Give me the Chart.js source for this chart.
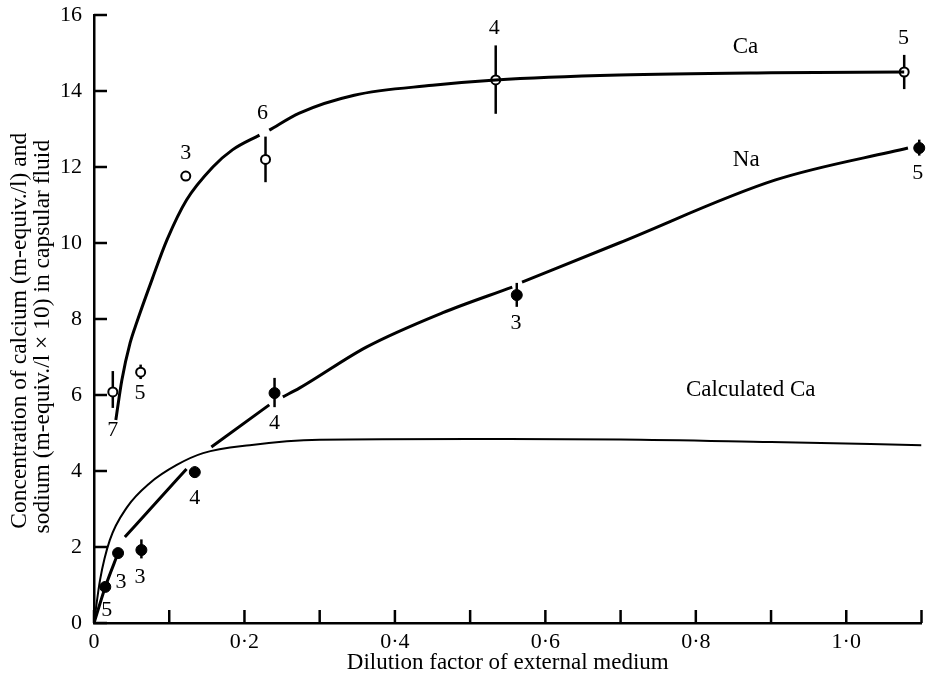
<!DOCTYPE html>
<html>
<head>
<meta charset="utf-8">
<script src="https://cdn.jsdelivr.net/npm/chart.js@4.4.1/dist/chart.umd.min.js"></script>
<style>
  html, body { margin: 0; padding: 0; background: #fff; }
  #chart { display: block; }
</style>
</head>
<body>
<canvas id="chart" width="928" height="680"></canvas>
<script>
// measured Ca points (open circles)
const caX = [0.025, 0.062, 0.122, 0.228, 0.534, 1.077];
const caY = [6.08, 6.6, 11.76, 12.2, 14.29, 14.5];
const caErrLow = [5.66, 6.42, null, 11.6, 13.4, 14.05];
const caErrHigh = [6.63, 6.8, null, 12.8, 15.2, 14.95];
const caN = ["7", "5", "3", "6", "4", "5"];
// where the n labels sit, in data units
const caNX = [0.025, 0.061, 0.122, 0.224, 0.532, 1.076];
const caNY = [5.08, 6.05, 12.37, 13.42, 15.66, 15.39];

// measured Na points (filled circles)
const naX = [0.015, 0.032, 0.063, 0.134, 0.24, 0.562, 1.097];
const naY = [0.95, 1.84, 1.92, 3.97, 6.05, 8.63, 12.5];
const naErrLow = [null, null, 1.7, 3.82, 5.68, 8.32, 12.3];
const naErrHigh = [null, null, 2.2, 4.12, 6.45, 8.95, 12.72];
const naN = ["5", "3", "3", "4", "4", "3", "5"];
const naNX = [0.017, 0.036, 0.061, 0.134, 0.24, 0.561, 1.095];
const naNY = [0.34, 1.08, 1.21, 3.29, 5.26, 7.9, 11.84];

// drawn curves (null = break in the line)
const caCurveX = [0.029, 0.037, 0.048, 0.057, 0.077, 0.097, 0.123, 0.158, 0.184, 0.22, 0.226, 0.233, 0.273, 0.346, 0.45, 0.534, 0.698, 0.9, 1.077];
const caCurveY = [5.34, 6.39, 7.37, 7.92, 9.03, 10.08, 11.13, 12.0, 12.45, 12.84, null, 12.97, 13.42, 13.89, 14.15, 14.29, 14.42, 14.48, 14.5];

const naCurveX = [0, 0.015, 0.032, 0.036, 0.041, 0.082, 0.123, 0.14, 0.156, 0.233, 0.242, 0.251, 0.273, 0.362, 0.463, 0.556, 0.562, 0.569, 0.698, 0.906, 1.082];
const naCurveY = [0, 0.95, 1.84, null, 2.26, 3.16, 4.05, null, 4.63, 5.74, null, 5.95, 6.18, 7.26, 8.16, 8.84, null, 8.97, 10.0, 11.66, 12.5];

const calcX = [0, 0.008, 0.021, 0.044, 0.074, 0.11, 0.145, 0.207, 0.3, 0.5, 0.7, 0.9, 1.1];
const calcY = [0, 1.13, 2.18, 3.05, 3.68, 4.16, 4.47, 4.68, 4.82, 4.84, 4.83, 4.76, 4.68];

const seriesNames = ["Ca", "Na", "Calculated Ca"];
const seriesNameX = [0.866, 0.867, 0.873];
const seriesNameY = [15.16, 12.18, 6.13];

const xLabelValues = [0, 0.2, 0.4, 0.6, 0.8, 1.0];
const xLabels = ["0", "0·2", "0·4", "0·6", "0·8", "1·0"];

const FONT = "'Liberation Serif', 'DejaVu Serif', serif";
const NB = "\u00a0";

const pts = (xs, ys) => xs.map((v, i) => ({ x: v, y: ys[i] }));

const annotate = {
  id: "annotate",
  beforeDatasetsDraw(chart) {
    const { ctx, scales: { x, y } } = chart;
    ctx.save();
    ctx.strokeStyle = "#000";
    ctx.lineWidth = 2.5;
    const bars = (xs, lo, hi) => xs.forEach((v, i) => {
      if (lo[i] == null) return;
      const px = x.getPixelForValue(v);
      ctx.beginPath();
      ctx.moveTo(px, y.getPixelForValue(lo[i]));
      ctx.lineTo(px, y.getPixelForValue(hi[i]));
      ctx.stroke();
    });
    bars(caX, caErrLow, caErrHigh);
    bars(naX, naErrLow, naErrHigh);
    ctx.restore();
  },
  afterDraw(chart) {
    const { ctx, chartArea, scales: { x, y } } = chart;
    ctx.save();
    // inward tick marks
    ctx.strokeStyle = "#000";
    ctx.lineWidth = 2.5;
    x.ticks.forEach((t) => {
      const px = x.getPixelForValue(t.value);
      ctx.beginPath();
      ctx.moveTo(px, chartArea.bottom);
      ctx.lineTo(px, chartArea.bottom - 13);
      ctx.stroke();
    });
    y.ticks.forEach((t) => {
      const py = y.getPixelForValue(t.value);
      ctx.beginPath();
      ctx.moveTo(chartArea.left, py);
      ctx.lineTo(chartArea.left + 13, py);
      ctx.stroke();
    });
    // n labels and curve names
    ctx.fillStyle = "#000";
    ctx.textAlign = "center";
    ctx.textBaseline = "middle";
    ctx.font = "22px " + FONT;
    const write = (xs, ys, txt) => xs.forEach((v, i) => {
      ctx.fillText(txt[i], x.getPixelForValue(v), y.getPixelForValue(ys[i]));
    });
    write(caNX, caNY, caN);
    write(naNX, naNY, naN);
    ctx.font = "23px " + FONT;
    write(seriesNameX, seriesNameY, seriesNames);
    ctx.restore();
  }
};

new Chart(document.getElementById("chart"), {
  type: "scatter",
  data: {
    datasets: [
      {
        label: "Calculated Ca",
        data: pts(calcX, calcY),
        showLine: true,
        borderColor: "#000",
        borderWidth: 2,
        pointRadius: 0,
        cubicInterpolationMode: "monotone",
        spanGaps: false
      },
      {
        label: "Ca curve",
        data: pts(caCurveX, caCurveY),
        showLine: true,
        borderColor: "#000",
        borderWidth: 3,
        pointRadius: 0,
        cubicInterpolationMode: "monotone",
        spanGaps: false
      },
      {
        label: "Na curve",
        data: pts(naCurveX, naCurveY),
        showLine: true,
        borderColor: "#000",
        borderWidth: 3,
        pointRadius: 0,
        cubicInterpolationMode: "monotone",
        spanGaps: false
      },
      {
        label: "Ca",
        data: pts(caX, caY),
        pointRadius: 4.5,
        pointBackgroundColor: "#fff",
        pointBorderColor: "#000",
        pointBorderWidth: 2,
        clip: false
      },
      {
        label: "Na",
        data: pts(naX, naY),
        pointRadius: 5.5,
        pointBackgroundColor: "#000",
        pointBorderColor: "#000",
        pointBorderWidth: 1,
        clip: false
      }
    ]
  },
  options: {
    responsive: false,
    animation: false,
    events: [],
    layout: { padding: { top: 15, right: 5, left: 0, bottom: 0 } },
    plugins: { legend: { display: false }, tooltip: { enabled: false } },
    scales: {
      x: {
        type: "linear",
        min: 0,
        max: 1.1,
        afterFit: (s) => { s.height = 57; s.paddingLeft = 0; s.paddingRight = 0; },
        grid: { display: false, drawTicks: false },
        border: { display: true, color: "#000", width: 2.5 },
        ticks: {
          stepSize: 0.1,
          autoSkip: false,
          maxRotation: 0,
          padding: 6,
          color: "#000",
          font: { family: FONT, size: 22 },
          callback: (v) => {
            const i = xLabelValues.findIndex((lv) => Math.abs(lv - v) < 1e-6);
            return i >= 0 ? xLabels[i] : "";
          }
        },
        title: {
          display: true,
          text: "Dilution factor of external medium",
          color: "#000",
          font: { family: FONT, size: 23, lineHeight: 1.2 },
          padding: { top: 0, bottom: 3 }
        }
      },
      y: {
        type: "linear",
        min: 0,
        max: 16,
        afterFit: (s) => { s.width = 94; s.paddingTop = 0; s.paddingBottom = 0; },
        grid: { display: false, drawTicks: false },
        border: { display: true, color: "#000", width: 2.5 },
        ticks: {
          stepSize: 2,
          padding: 12,
          color: "#000",
          font: { family: FONT, size: 22 }
        },
        title: {
          display: true,
          text: [
            "Concentration of calcium (m-equiv./l) and" + NB.repeat(4),
            "sodium (m-equiv./l × 10) in capsular fluid" + NB.repeat(6)
          ],
          color: "#000",
          font: { family: FONT, size: 23.5, lineHeight: 0.98 },
          padding: { top: 8, bottom: 0 }
        }
      }
    }
  },
  plugins: [annotate]
});
</script>
</body>
</html>
